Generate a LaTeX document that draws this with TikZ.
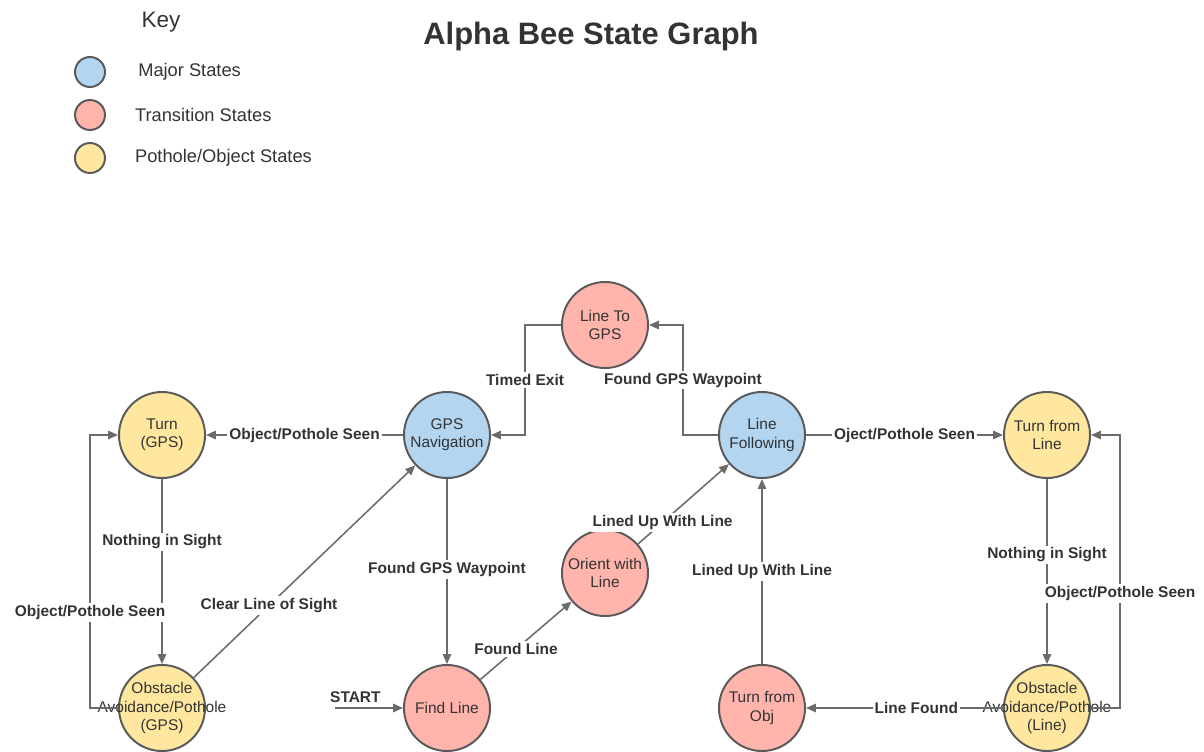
\documentclass[tikz,border=0pt]{standalone}
\usepackage{fontspec}
\setmainfont{Liberation Sans}
\usetikzlibrary{positioning,arrows.meta}
\definecolor{majorblue}{HTML}{B3D5F0}
\definecolor{transred}{HTML}{FFB4AC}
\definecolor{objyellow}{HTML}{FFE79F}
\definecolor{rim}{HTML}{5A5A5A}
\definecolor{wire}{HTML}{6B6B6B}
\definecolor{ink}{HTML}{333333}

\begin{document}
\begin{tikzpicture}[
    x=0.025cm, y=-0.025cm,
    state/.style={circle, draw=rim, line width=1.4pt, minimum size=2.15cm, inner sep=0pt, align=center, text=ink, font=\fontsize{11}{13}\selectfont},
    inside/.style={align=center, text=ink, font=\fontsize{11}{13}\selectfont},
    keydot/.style={circle, draw=rim, line width=1.4pt, minimum size=0.75cm, inner sep=0pt},
    keytext/.style={inner sep=0pt, text=ink, font=\fontsize{13}{15}\selectfont},
    arrow/.style={-{Triangle[length=7pt,width=6pt]}, draw=wire, line width=1.1pt},
    lbl/.style={fill=white, inner sep=1.5pt, text=ink, font=\fontsize{11}{13}\selectfont\bfseries}
]
\useasboundingbox (0,0) rectangle (1204,751);

% title and key
\node[text=ink, font=\fontsize{22}{26}\selectfont\bfseries] (title) at (591,36) {Alpha Bee State Graph};
\node[text=ink, font=\fontsize{16}{19}\selectfont] (key) at (161,22) {Key};
\node[keydot, fill=majorblue] (kmajor) at (90,72) {};
\node[keydot, fill=transred] (ktrans) at (90,115) {};
\node[keydot, fill=objyellow] (kobj) at (90,158) {};
\node[keytext, right=0.8cm of kmajor] {Major States};
\node[keytext, right=0.72cm of ktrans] {Transition States};
\node[keytext, right=0.72cm of kobj] {Pothole/Object States};

% states
\node[state, fill=objyellow] (tgps) at (162,435) {Turn\\(GPS)};
\node[state, fill=majorblue] (gpsnav) at (447,435) {GPS\\Navigation};
\node[state, fill=transred] (ltg) at (605,325) {Line To\\GPS};
\node[state, fill=majorblue] (lf) at (762,435) {Line\\Following};
\node[state, fill=objyellow] (tline) at (1047,435) {Turn from\\Line};
\node[state, fill=objyellow, label={[inside]center:Obstacle\\Avoidance/Pothole\\(GPS)}] (obsgps) at (162,708) {};
\node[state, fill=transred] (findline) at (447,708) {Find Line};
\node[state, fill=transred] (orient) at (605,573) {Orient with\\Line};
\node[state, fill=transred] (tobj) at (762,708) {Turn from\\Obj};
\node[state, fill=objyellow, label={[inside]center:Obstacle\\Avoidance/Pothole\\(Line)}] (obsline) at (1047,708) {};
\coordinate (start) at (335,708);

% transitions
\draw[arrow] (gpsnav) -- node[lbl]{Object/Pothole Seen} (tgps);
\draw[arrow] (tgps) -- node[lbl, pos=0.34]{Nothing in Sight} (obsgps);
\draw[arrow] (obsgps.west) -- ++(-28,0) -- node[lbl, pos=0.35]{Object/Pothole Seen} ++(0,-273) -- (tgps.west);
\draw[arrow] (obsgps) -- node[lbl, pos=0.34]{Clear Line of Sight} (gpsnav);
\draw[arrow] (gpsnav) -- node[lbl, pos=0.49]{Found GPS Waypoint} (findline);
\draw[arrow] (start) -- node[pos=0.3, above, text=ink, font=\fontsize{11}{13}\selectfont\bfseries]{START} (findline);
\draw[arrow] (findline) -- node[lbl, pos=0.39]{Found Line} (orient);
\draw[arrow] (orient) -- node[lbl, pos=0.27]{Lined Up With Line} (lf);
\draw[arrow] (lf.west) -- ++(-35,0) -- node[lbl]{Found GPS Waypoint} ++(0,-110) -- (ltg.east);
\draw[arrow] (ltg.west) -- ++(-36,0) -- node[lbl]{Timed Exit} ++(0,110) -- (gpsnav.east);
\draw[arrow] (lf) -- node[lbl]{Oject/Pothole Seen} (tline);
\draw[arrow] (tline) -- node[lbl, pos=0.41]{Nothing in Sight} (obsline);
\draw[arrow] (obsline.east) -- ++(29,0) -- node[lbl, pos=0.42]{Object/Pothole Seen} ++(0,-273) -- (tline.east);
\draw[arrow] (obsline) -- node[lbl, pos=0.44]{Line Found} (tobj);
\draw[arrow] (tobj) -- node[lbl]{Lined Up With Line} (lf);

\end{tikzpicture}
\end{document}
